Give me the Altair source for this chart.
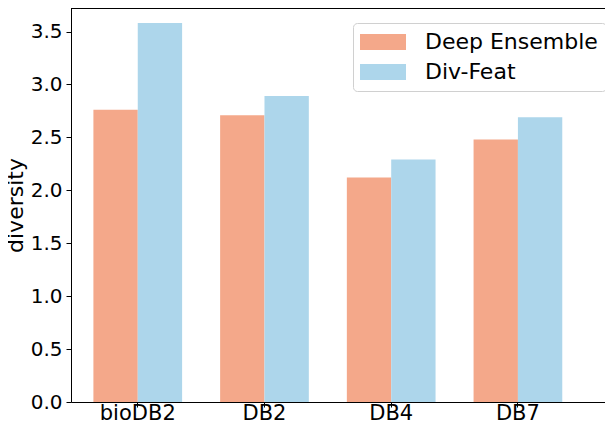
import altair as alt
import pandas as pd

categories = ["bioDB2", "DB2", "DB4", "DB7"]
series = ["Deep Ensemble", "Div-Feat"]
deep_ensemble = [2.76, 2.71, 2.12, 2.48]
div_feat = [3.58, 2.89, 2.29, 2.69]
y_ticks = [0.0, 0.5, 1.0, 1.5, 2.0, 2.5, 3.0, 3.5]
colors = ["#F4A88A", "#ADD6EB"]

rows = []
for c, a, b in zip(categories, deep_ensemble, div_feat):
    rows.append({"category": c, "series": series[0], "value": a})
    rows.append({"category": c, "series": series[1], "value": b})
df = pd.DataFrame(rows)

W, H = 534, 394
FONT = "DejaVu Sans"

bars = alt.Chart(df).mark_bar().encode(
    x=alt.X("category:N", sort=categories, title=None,
            scale=alt.Scale(paddingInner=0.3, paddingOuter=0.257, align=0.344),
            axis=alt.Axis(labelAngle=0, labelFontSize=21, labelFont=FONT, labelColor="black",
                          labelBaseline="alphabetic",
                          domainColor="black", tickColor="black", tickSize=5, labelPadding=12,
                          grid=False)),
    xOffset=alt.XOffset("series:N", sort=series),
    y=alt.Y("value:Q", title="diversity",
            scale=alt.Scale(domain=[0, 3.722], nice=False, zero=True),
            axis=alt.Axis(values=y_ticks, format=".1f", labelFontSize=20, labelFont=FONT,
                          labelColor="black", domainColor="black", tickColor="black",
                          tickSize=5, labelPadding=4, grid=False, titleFontSize=22,
                          titleFont=FONT, titleFontWeight="normal", titleColor="black",
                          titlePadding=3)),
    color=alt.Color("series:N", sort=series, title=None,
                    scale=alt.Scale(domain=series, range=colors),
                    legend=alt.Legend(orient="none", legendX=282, legendY=15,
                                      symbolType="M-2.875,-1L2.875,-1L2.875,1L-2.875,1Z",
                                      symbolSize=256, symbolStrokeWidth=0,
                                      labelFontSize=22, labelFont=FONT, labelColor="black",
                                      labelLimit=400,
                                      fillColor="white", strokeColor="#d0d0d0", cornerRadius=4,
                                      padding=8, rowPadding=8, labelOffset=31,
                                      symbolOffset=11)),
)

top = alt.Chart(df).mark_rule(color="black", strokeWidth=1).encode(
    x=alt.value(0), x2=alt.value(W), y=alt.value(0)
)

chart = alt.layer(bars, top).properties(
    width=W, height=H,
    autosize=alt.AutoSizeParams(type="none"),
    padding={"left": 63, "top": 0, "right": 0, "bottom": 22},
).configure_view(stroke=None)

chart.save("out.html", embed_options={"renderer": "svg", "actions": False})
